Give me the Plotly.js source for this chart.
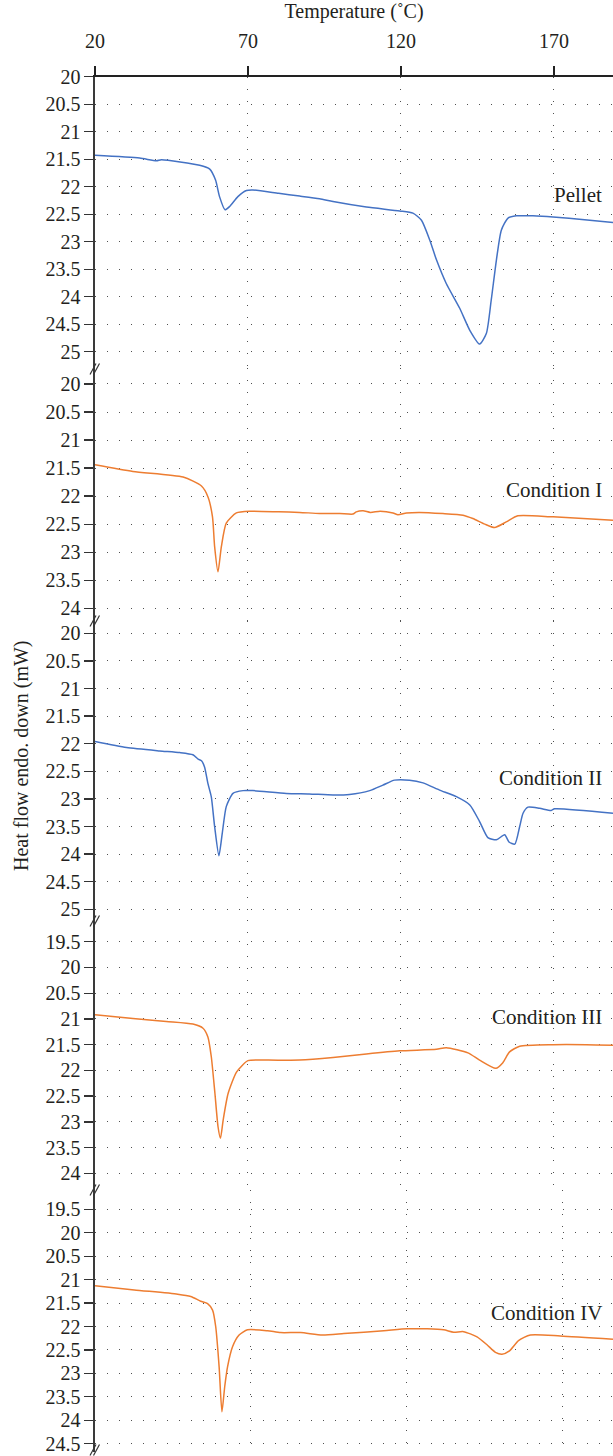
<!DOCTYPE html>
<html>
<head>
<meta charset="utf-8">
<script src="https://cdn.plot.ly/plotly-3.0.1.min.js"></script>
<style>
  html, body { margin: 0; padding: 0; background: #fff; }
  #chart { width: 613px; height: 1456px; }
</style>
</head>
<body>
<div id="chart"></div>
<script>
// ---------------- DATA ----------------
const xTickVals = [20, 70, 120, 170];
const xTickText = ["20", "70", "120", "170"];

const pelletT = [20, 34.6, 40.1, 41.7, 54.2, 57.5, 59.4, 60.7, 62.5, 64.0, 66.7, 69.5, 71.6, 80, 86.9, 93.4, 97.8, 108.7, 119.6, 123.9, 126.7, 129.4, 131.6, 134.8, 139.2, 142.5, 145.7, 147.9, 149.5, 151.2, 152.8, 155.0, 157.7, 163.1, 169.7, 180, 189.3];
const pelletV = [21.43, 21.48, 21.53, 21.51, 21.61, 21.68, 21.88, 22.18, 22.42, 22.36, 22.18, 22.07, 22.06, 22.12, 22.17, 22.22, 22.27, 22.37, 22.44, 22.48, 22.61, 22.97, 23.33, 23.76, 24.21, 24.61, 24.86, 24.67, 24.06, 23.33, 22.79, 22.57, 22.53, 22.53, 22.55, 22.60, 22.65];

const cond1T = [20, 32.4, 48.8, 54.8, 56.9, 58.4, 59.1, 60.2, 61.3, 62.9, 66.2, 70.6, 80, 86.9, 93.4, 100, 104.3, 105.4, 107.6, 110, 113.2, 117.4, 119.0, 121.8, 126.1, 133.7, 140.3, 143.5, 147.4, 150.6, 154.4, 158.2, 169.7, 189.3];
const cond1V = [21.44, 21.56, 21.66, 21.82, 22.01, 22.37, 22.90, 23.35, 22.90, 22.48, 22.30, 22.27, 22.28, 22.29, 22.31, 22.31, 22.32, 22.28, 22.26, 22.29, 22.27, 22.30, 22.33, 22.30, 22.29, 22.31, 22.34, 22.40, 22.50, 22.56, 22.46, 22.35, 22.37, 22.43];

const cond2T = [20, 30.3, 41.1, 47.7, 52.0, 53.7, 54.8, 55.8, 56.9, 58.0, 59.1, 60.5, 61.6, 62.9, 65.1, 68.4, 71.6, 82.5, 90, 97.8, 103.2, 109.8, 114.1, 117.9, 122.8, 127.2, 132.6, 138.1, 142.5, 145.7, 148.4, 151.2, 153.9, 155.3, 157.2, 158.8, 159.9, 161.5, 165.3, 169.1, 170.2, 189.3];
const cond2V = [21.96, 22.07, 22.13, 22.16, 22.20, 22.28, 22.31, 22.42, 22.72, 22.96, 23.50, 24.03, 23.62, 23.14, 22.90, 22.85, 22.85, 22.90, 22.91, 22.93, 22.92, 22.85, 22.75, 22.66, 22.66, 22.71, 22.84, 22.96, 23.11, 23.41, 23.70, 23.74, 23.65, 23.78, 23.82, 23.50, 23.26, 23.15, 23.17, 23.21, 23.18, 23.26];

const cond3T = [20, 32.4, 43.3, 52.0, 55.3, 56.9, 58.0, 59.2, 60.2, 61.0, 61.9, 63.5, 66.3, 70.0, 76.0, 86.9, 97.8, 108.7, 119.6, 131.6, 134.8, 141.9, 145.7, 151.0, 153.3, 155.5, 158.8, 169.7, 180.6, 189.3];
const cond3V = [20.92, 20.99, 21.05, 21.10, 21.18, 21.35, 21.73, 22.45, 23.09, 23.32, 22.96, 22.45, 22.03, 21.81, 21.80, 21.80, 21.75, 21.68, 21.62, 21.59, 21.56, 21.66, 21.80, 21.96, 21.85, 21.64, 21.53, 21.50, 21.50, 21.51];

const cond4T = [20, 32.6, 46.5, 50.7, 53.9, 56.1, 57.7, 58.7, 59.8, 60.7, 61.6, 62.5, 64.1, 66.2, 68.9, 75.3, 79.5, 85.9, 92.9, 99.8, 112.6, 120.1, 126.5, 131.8, 135.0, 138.2, 142.5, 145.7, 148.4, 150.5, 152.9, 155.8, 159.6, 169.2, 186.1];
const cond4V = [21.13, 21.22, 21.31, 21.36, 21.46, 21.51, 21.65, 22.00, 22.86, 23.82, 23.28, 22.86, 22.43, 22.18, 22.07, 22.09, 22.13, 22.13, 22.18, 22.15, 22.09, 22.05, 22.05, 22.07, 22.12, 22.11, 22.22, 22.39, 22.55, 22.59, 22.52, 22.30, 22.18, 22.20, 22.27];

const yTicks1 = [20, 20.5, 21, 21.5, 22, 22.5, 23, 23.5, 24, 24.5, 25];
const yTicks2 = [20, 20.5, 21, 21.5, 22, 22.5, 23, 23.5, 24];
const yTicks3 = [20, 20.5, 21, 21.5, 22, 22.5, 23, 23.5, 24, 24.5, 25];
const yTicks4 = [19.5, 20, 20.5, 21, 21.5, 22, 22.5, 23, 23.5, 24];
const yTicks5 = [19.5, 20, 20.5, 21, 21.5, 22, 22.5, 23, 23.5, 24, 24.5];

const panelLabels = ["Pellet", "Condition I", "Condition II", "Condition III", "Condition IV"];
const xTitle = "Temperature (˚C)";
const yTitle = "Heat flow endo. down (mW)";

// ---------------- LAYOUT HELPERS ----------------
const W = 613, H = 1456, L = 95;
const PW = W - L;
const py = p => (H - p) / H;          // pixel y -> paper y
const px = p => (p - L) / PW;         // pixel x -> paper x

const BLUE = "#4472c4", ORANGE = "#ed7d31", TXT = "#231f20";
const FONT = "Liberation Serif, Times New Roman, serif";
const GRID = { showgrid: true, gridcolor: "#505050", gridwidth: 1, griddash: "1px,11px" };

function yAxis(domTop, domBot, rTop, rBot, ticks) {
  return Object.assign({
    domain: [py(domBot), py(domTop)],
    range: [rBot, rTop],
    tickmode: "array",
    tickvals: ticks,
    ticktext: ticks.map(String),
    ticks: "outside", ticklen: 9, tickwidth: 1.3, tickcolor: "#333",
    showline: true, linecolor: "#3a3a3a", linewidth: 1.6,
    zeroline: false,
    tickfont: { family: FONT, size: 20, color: TXT },
    anchor: "x"
  }, GRID);
}

const lineStyle = c => ({ color: c, width: 1.5, shape: "spline", smoothing: 0.6 });

const traces = [
  { x: pelletT, y: pelletV, xaxis: "x", yaxis: "y", mode: "lines", line: lineStyle(BLUE), name: panelLabels[0] },
  { x: cond1T, y: cond1V, xaxis: "x", yaxis: "y2", mode: "lines", line: lineStyle(ORANGE), name: panelLabels[1] },
  { x: cond2T, y: cond2V, xaxis: "x", yaxis: "y3", mode: "lines", line: lineStyle(BLUE), name: panelLabels[2] },
  { x: cond3T, y: cond3V, xaxis: "x", yaxis: "y4", mode: "lines", line: lineStyle(ORANGE), name: panelLabels[3] },
  { x: cond4T, y: cond4V, xaxis: "x2", yaxis: "y5", mode: "lines", line: lineStyle(ORANGE), name: panelLabels[4] }
];

// panel boundaries (pixel) and value ranges
const y1 = yAxis(76.7, 368, 20, 25.296, yTicks1);
const y2 = yAxis(368, 621, 19.715, 24.227, yTicks2);
const y3 = yAxis(621, 920, 19.777, 25.194, yTicks3);
const y4 = yAxis(920, 1190, 19.078, 24.324, yTicks4);
const y5 = yAxis(1190, 1452, 19.088, 24.677, yTicks5);
y5.anchor = "x2";

const labelY = [195, 490, 778, 1017, 1313];
const annotations = panelLabels.map((t, i) => ({
  text: t, xref: "paper", yref: "paper", x: px(604), y: py(labelY[i]),
  xanchor: "right", yanchor: "middle", showarrow: false,
  font: { family: FONT, size: 21, color: TXT }
}));
// y-axis title (placed as rotated text, centred where the reference has it)
annotations.push({
  text: yTitle, xref: "paper", yref: "paper", x: px(22), y: py(756),
  xanchor: "center", yanchor: "middle", textangle: -90, showarrow: false,
  font: { family: FONT, size: 20, color: TXT }
});

// axis break marks "//"
const breaks = [369, 621, 921, 1190, 1450];
const shapes = [];
breaks.forEach(b => {
  [0, 3.5].forEach(dx => {
    shapes.push({ type: "line", xref: "paper", yref: "paper",
      x0: px(90 + dx), y0: py(b + 5.5), x1: px(96 + dx), y1: py(b - 5.5),
      line: { color: "#333", width: 1.2 } });
  });
});

const layout = {
  width: W, height: H,
  margin: { l: L, r: 0, t: 0, b: 0, pad: 0 },
  paper_bgcolor: "#fff", plot_bgcolor: "#fff",
  showlegend: false,
  font: { family: FONT, color: TXT },
  xaxis: Object.assign({
    range: [20, 189.3], side: "top", anchor: "y",
    tickmode: "array", tickvals: xTickVals, ticktext: xTickText,
    ticks: "outside", ticklen: 9, tickwidth: 1.3, tickcolor: "#222",
    showline: true, linecolor: "#222", linewidth: 1.6, zeroline: false,
    tickfont: { family: FONT, size: 20, color: TXT },
    ticklabelstandoff: 10,
    title: { text: xTitle, font: { family: FONT, size: 20, color: TXT }, standoff: 10 }
  }, GRID),
  xaxis2: Object.assign({
    range: [20, 186.1], anchor: "y5", domain: [0, 1],
    tickmode: "array", tickvals: xTickVals, showticklabels: false,
    ticks: "", showline: false, zeroline: false
  }, GRID),
  yaxis: y1, yaxis2: y2, yaxis3: y3, yaxis4: y4, yaxis5: y5,
  annotations: annotations,
  shapes: shapes
};

Plotly.newPlot("chart", traces, layout, { displayModeBar: false, staticPlot: true });
</script>
</body>
</html>
